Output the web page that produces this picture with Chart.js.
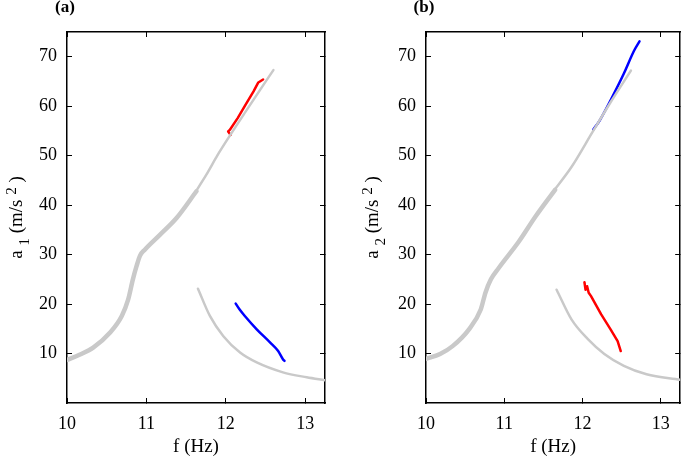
<!DOCTYPE html>
<html>
<head>
<meta charset="utf-8">
<script src="https://cdn.jsdelivr.net/npm/chart.js@4.4.1/dist/chart.umd.min.js"></script>
<style>
  html, body { margin: 0; padding: 0; background: #fff; }
  #wrap { position: relative; width: 685px; height: 457px; overflow: hidden; }
  canvas { position: absolute; top: 0; }
</style>
</head>
<body>
<div id="wrap">
  <canvas id="cA" width="340" height="457" style="left:0px"></canvas>
  <canvas id="cB" width="345" height="457" style="left:340px"></canvas>
</div>
<script>
// ---------- tick values ----------
const xTickValues = [10, 11, 12, 13];
const yTickValues = [10, 20, 30, 40, 50, 60, 70];
const xTickLabels = ['10', '11', '12', '13'];
const yTickLabels = ['10', '20', '30', '40', '50', '60', '70'];
const panelLabels = ['(a)', '(b)'];
const xAxisTitle = 'f (Hz)';

// ---------- panel (a) ----------
const aGrayLowX  = [10.00, 10.15, 10.33, 10.54, 10.69, 10.77, 10.83, 10.875, 10.92, 10.98, 11.17, 11.38, 11.63];
const aGrayLowY  = [8.7, 9.7, 11.2, 14.2, 17.6, 20.9, 25.0, 27.6, 29.8, 31.0, 34.0, 37.4, 42.8];
const aGrayUpX   = [11.60, 11.75, 11.90, 12.07, 12.25, 12.42, 12.60];
const aGrayUpY   = [42.2, 46.0, 50.2, 54.5, 58.9, 63.0, 67.3];
const aGrayDownX = [11.65, 11.80, 11.97, 12.18, 12.39, 12.72, 13.02, 13.25];
const aGrayDownY = [23.1, 17.6, 13.5, 10.2, 8.2, 6.2, 5.2, 4.6];
const aRedX      = [12.06, 12.03, 12.05, 12.15, 12.25, 12.35, 12.41, 12.47];
const aRedY      = [54.2, 54.9, 55.2, 57.6, 60.3, 63.0, 64.8, 65.4];
const aBlueX     = [12.125, 12.175, 12.24, 12.39, 12.56, 12.66, 12.72, 12.74];
const aBlueY     = [20.1, 18.9, 17.6, 14.9, 12.2, 10.5, 8.85, 8.5];

// ---------- panel (b) ----------
const bGrayLowX  = [10.00, 10.18, 10.34, 10.55, 10.70, 10.76, 10.83, 10.93, 11.19, 11.40, 11.65];
const bGrayLowY  = [8.9, 9.9, 11.5, 14.9, 18.9, 22.3, 25.0, 27.3, 32.7, 37.7, 43.1];
const bGrayUpX   = [11.61, 11.86, 12.13, 12.36, 12.62];
const bGrayUpY   = [42.4, 47.7, 54.8, 60.8, 67.2];
const bGrayDownX = [11.67, 11.86, 12.07, 12.28, 12.53, 12.82, 13.25];
const bGrayDownY = [22.9, 16.9, 12.9, 9.9, 7.5, 5.8, 4.7];
const bBlueX     = [12.14, 12.22, 12.36, 12.53, 12.66, 12.73];
const bBlueY     = [55.3, 57.1, 61.2, 66.6, 71.2, 73.1];
const bRedX      = [12.026, 12.04, 12.06, 12.08, 12.11, 12.24, 12.36, 12.45, 12.49];
const bRedY      = [24.4, 22.9, 23.6, 22.3, 21.6, 17.9, 14.9, 12.5, 10.5];

const GRAY = '#c9c9c9', RED = '#ff0000', BLUE = '#0000ff';
const SERIF = '"Liberation Serif", "Times New Roman", serif';

function pts(xs, ys) { return xs.map((x, i) => ({ x: x, y: ys[i] })); }
function ds(xs, ys, color, w, smooth) {
  return { data: pts(xs, ys), borderColor: color, borderWidth: w, showLine: true,
           pointRadius: 0, tension: smooth ? 0.4 : 0,
           cubicInterpolationMode: smooth ? 'monotone' : 'default',
           xAxisID: 'x', yAxisID: 'y',
           borderCapStyle: 'round', borderJoinStyle: 'round' };
}

function axis(pos, isX, show, size, ticksArr, labelsArr, padding) {
  return {
    type: 'linear', axis: isX ? 'x' : 'y', position: pos,
    min: isX ? 10 : 0, max: isX ? 13.25 : 75,
    afterBuildTicks: s => { s.ticks = ticksArr.map(v => ({ value: v })); },
    afterFit: s => { if (isX) s.height = size; else s.width = size; },
    grid: { drawOnChartArea: false, drawTicks: true, tickLength: -5, color: '#000', lineWidth: 1 },
    border: { display: true, color: '#000', width: 1.5 },
    ticks: {
      display: show, padding: padding, color: '#000', maxRotation: 0, autoSkip: false,
      font: { family: SERIF, size: 18 },
      callback: (v) => { const i = ticksArr.indexOf(v); return i >= 0 ? labelsArr[i] : ''; }
    }
  };
}

function labelsPlugin(panelLabel, sub, yOff) {
  return {
    id: 'labels',
    afterDraw(chart) {
      const { ctx, chartArea: ca } = chart;
      ctx.save();
      ctx.fillStyle = '#000';
      // panel label
      ctx.font = 'bold 17px ' + SERIF;
      ctx.textAlign = 'center';
      ctx.textBaseline = 'middle';
      ctx.fillText(panelLabel, ca.left - 2, 8);
      // x title
      ctx.font = '19px ' + SERIF;
      ctx.textBaseline = 'alphabetic';
      ctx.fillText(xAxisTitle, (ca.left + ca.right) / 2, 452);
      // y title (rotated, with sub/superscript)
      const parts = [
        { t: 'a', s: 19, dy: 0 },
        { t: ' ', s: 19, dy: 0 },
        { t: sub, s: 15, dy: 7 },
        { t: ' (m/s', s: 19, dy: 0 },
        { t: ' ', s: 19, dy: 0 },
        { t: '2', s: 15, dy: -6 },
        { t: ' )', s: 19, dy: 0 }
      ];
      let total = 0;
      parts.forEach(p => { ctx.font = p.s + 'px ' + SERIF; p.w = ctx.measureText(p.t).width; total += p.w; });
      ctx.translate(ca.left - yOff, (ca.top + ca.bottom) / 2);
      ctx.rotate(-Math.PI / 2);
      ctx.textAlign = 'left';
      let x = -total / 2;
      parts.forEach(p => { ctx.font = p.s + 'px ' + SERIF; ctx.fillText(p.t, x, p.dy); x += p.w; });
      ctx.restore();
    }
  };
}

function makeChart(id, datasets, yAxisWidth, rightPad, panelLabel, sub, yOff) {
  return new Chart(document.getElementById(id), {
    type: 'scatter',
    data: { datasets: datasets },
    options: {
      responsive: false, animation: false,
      layout: { padding: { left: 0, right: rightPad, top: 32, bottom: 0 } },
      plugins: { legend: { display: false }, tooltip: { enabled: false } },
      scales: {
        x:  axis('bottom', true, true, 54, xTickValues, xTickLabels, 15),
        x2: axis('top', true, false, 0, xTickValues, xTickLabels, 0),
        y:  axis('left', false, true, yAxisWidth, yTickValues, yTickLabels, 15),
        y2: axis('right', false, false, 0, yTickValues, yTickLabels, 0)
      }
    },
    plugins: [labelsPlugin(panelLabel, sub, yOff)]
  });
}

makeChart('cA', [
  ds(aGrayLowX, aGrayLowY, GRAY, 4.5, true),
  ds(aGrayUpX, aGrayUpY, GRAY, 2.5, true),
  ds(aGrayDownX, aGrayDownY, GRAY, 2.5, true),
  ds(aRedX, aRedY, RED, 2.5, false),
  ds(aBlueX, aBlueY, BLUE, 2.5, true)
], 67, 15, panelLabels[0], '1', 45);

makeChart('cB', [
  ds(bGrayLowX, bGrayLowY, GRAY, 4.5, true),
  ds(bGrayUpX, bGrayUpY, GRAY, 2.5, true),
  ds(bGrayDownX, bGrayDownY, GRAY, 2.5, true),
  ds(bBlueX, bBlueY, BLUE, 2.5, true),
  ds(bRedX, bRedY, RED, 2.5, false)
], 86, 1, panelLabels[1], '2', 48);
</script>
</body>
</html>
